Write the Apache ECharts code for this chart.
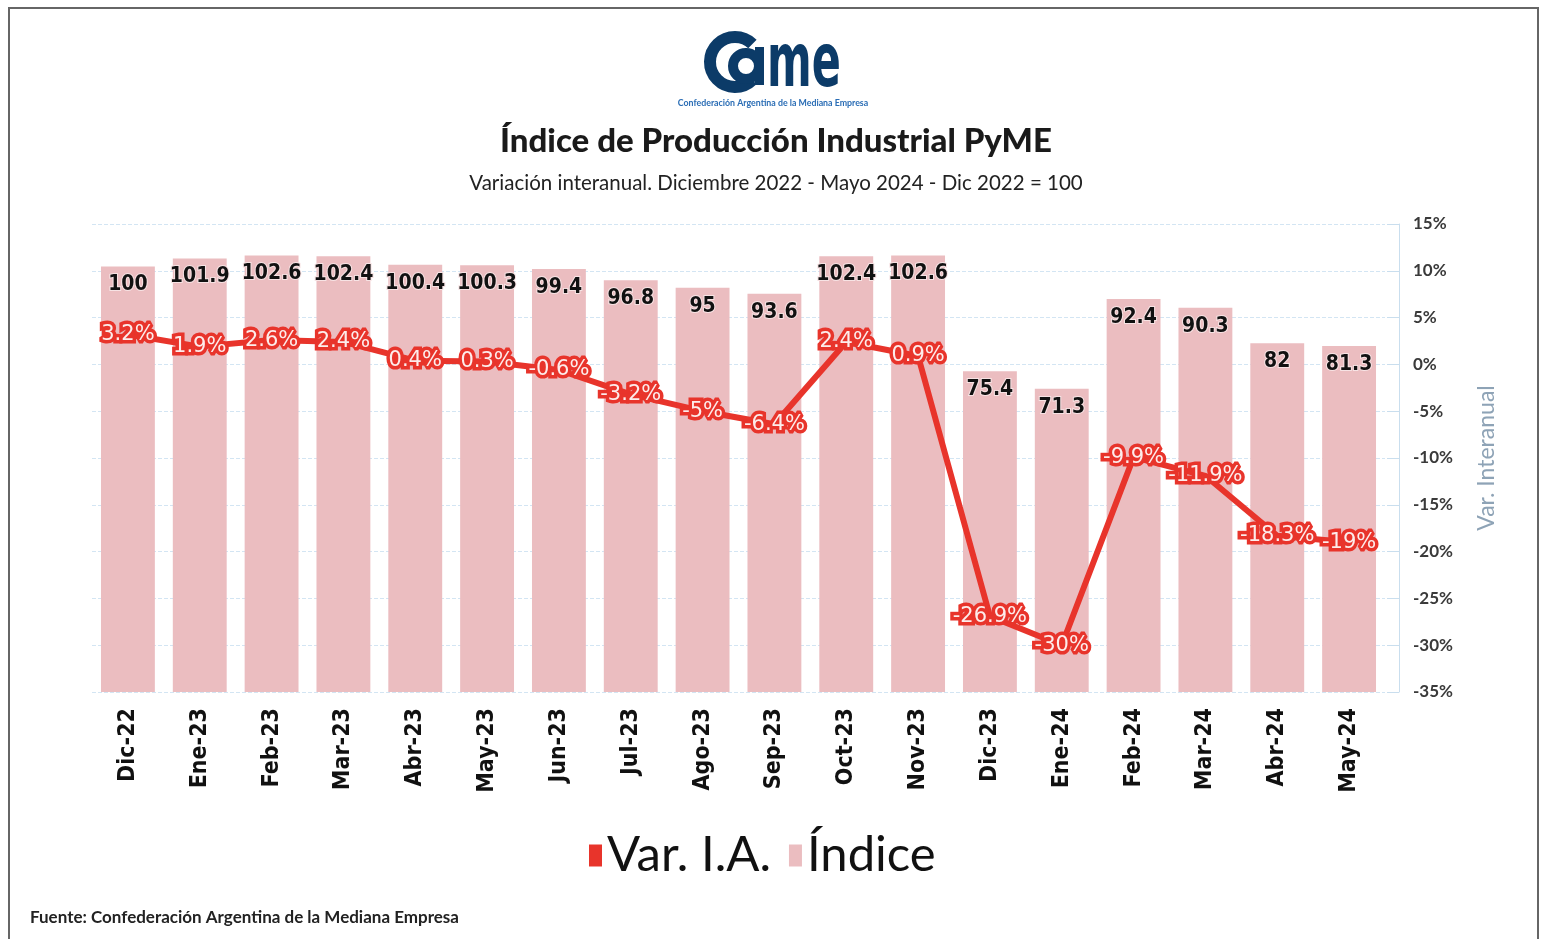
<!DOCTYPE html>
<html>
<head>
<meta charset="utf-8">
<script src="https://cdn.jsdelivr.net/npm/echarts@6/dist/echarts.min.js"></script>
<style>
  html, body { margin: 0; padding: 0; background: #fff; }
  #chart { width: 1552px; height: 939px; }
</style>
</head>
<body>
<div id="chart"></div>
<script>
// meses del período
const meses = ['Dic-22', 'Ene-23', 'Feb-23', 'Mar-23', 'Abr-23', 'May-23', 'Jun-23', 'Jul-23', 'Ago-23',
  'Sep-23', 'Oct-23', 'Nov-23', 'Dic-23', 'Ene-24', 'Feb-24', 'Mar-24', 'Abr-24', 'May-24'];
// índice (Dic 2022 = 100)
const indice = [100, 101.9, 102.6, 102.4, 100.4, 100.3, 99.4, 96.8, 95, 93.6, 102.4, 102.6, 75.4, 71.3, 92.4, 90.3, 82, 81.3];
// variación interanual %
const varIA = [3.2, 1.9, 2.6, 2.4, 0.4, 0.3, -0.6, -3.2, -5, -6.4, 2.4, 0.9, -26.9, -30, -9.9, -11.9, -18.3, -19];

const rojo = '#e8342b';
const rosa = '#ebbdc0';
const azulLogo = '#0c3b68';

const chart = echarts.init(document.getElementById('chart'));

const option = {
  backgroundColor: '#fff',
  animation: false,
  title: [
    {
      text: 'Índice de Producción Industrial PyME',
      left: 'center',
      top: 120,
      textStyle: { fontFamily: 'Lato', fontWeight: 900, fontSize: 33, color: '#1a1a1a' }
    },
    {
      text: 'Variación interanual. Diciembre 2022 - Mayo 2024 - Dic 2022 = 100',
      left: 'center',
      top: 168,
      textStyle: { fontFamily: 'Lato', fontWeight: 'normal', fontSize: 20.5, color: '#222' }
    }
  ],
  legend: {
    data: ['Var. I.A.', 'Índice'],
    left: 584,
    top: 826,
    icon: 'rect',
    itemWidth: 13,
    itemHeight: 22,
    itemGap: 18,
    textStyle: { fontFamily: 'Lato', fontSize: 49, color: '#111' }
  },
  grid: { left: 92, right: 167, top: 224, bottom: 247 },
  xAxis: {
    type: 'category',
    data: meses,
    axisLine: { show: false },
    axisTick: { show: false },
    axisLabel: {
      rotate: 90,
      margin: 16,
      fontFamily: 'DejaVu Sans Condensed',
      fontWeight: 'bold',
      fontSize: 23,
      color: '#111'
    }
  },
  yAxis: [
    {
      type: 'value',
      min: 0,
      max: 110,
      show: false
    },
    {
      type: 'value',
      position: 'right',
      offset: 14,
      min: -35,
      max: 15,
      interval: 5,
      name: 'Var. Interanual',
      nameLocation: 'middle',
      nameRotate: 90,
      nameGap: 76,
      nameTextStyle: { fontFamily: 'Lato', fontSize: 23, color: '#8ea3b6' },
      axisLine: { show: true, lineStyle: { color: '#c9deee' } },
      axisTick: { show: true, inside: true, length: 12, lineStyle: { color: '#c9deee' } },
      axisLabel: {
        formatter: '{value}%',
        margin: 14,
        fontFamily: 'Lato',
        fontWeight: 'bold',
        fontSize: 17,
        color: '#3a3a3a'
      },
      splitLine: { show: true, lineStyle: { color: '#d3e5f3', type: 'dashed', width: 1 } }
    }
  ],
  series: [
    {
      name: 'Índice',
      type: 'bar',
      yAxisIndex: 0,
      data: indice,
      barWidth: '75%',
      itemStyle: { color: rosa },
      label: {
        show: true,
        position: 'insideTop',
        distance: 8,
        fontFamily: 'DejaVu Sans Condensed',
        fontWeight: 'bold',
        fontSize: 21,
        color: '#111',
        textBorderColor: '#f7e3e4',
        textBorderWidth: 2
      }
    },
    {
      name: 'Var. I.A.',
      type: 'line',
      yAxisIndex: 1,
      data: varIA,
      symbol: 'circle',
      symbolSize: 2,
      itemStyle: { color: rojo },
      lineStyle: { color: rojo, width: 6 },
      label: {
        show: true,
        position: 'inside',
        formatter: p => p.value + '%',
        fontFamily: 'DejaVu Sans',
        fontSize: 21,
        color: '#fdeceb',
        textBorderColor: rojo,
        textBorderWidth: 7
      },
      z: 5
    }
  ],
  graphic: [
    // marco
    {
      type: 'rect',
      shape: { x: 9, y: 8, width: 1529, height: 960 },
      style: { fill: 'none', stroke: '#666', lineWidth: 2 },
      silent: true
    },
    // logo came
    {
      type: 'arc',
      shape: { cx: 735, cy: 62, r: 25, startAngle: 0.8, endAngle: Math.PI * 2 - 0.8, clockwise: true },
      style: { stroke: azulLogo, lineWidth: 12, fill: 'none' }
    },
    {
      type: 'circle',
      shape: { cx: 746, cy: 66, r: 13 },
      style: { stroke: azulLogo, lineWidth: 10, fill: '#fff' }
    },
    {
      type: 'rect',
      shape: { x: 755, y: 47, width: 9, height: 38 },
      style: { fill: azulLogo }
    },
    {
      type: 'text',
      x: 767,
      y: 104,
      scaleX: 0.58,
      style: {
        text: 'me',
        fontFamily: 'DejaVu Sans',
        fontWeight: 'bold',
        fontSize: 74,
        fill: azulLogo,
        textVerticalAlign: 'bottom'
      }
    },
    {
      type: 'text',
      x: 773,
      y: 103,
      style: {
        text: 'Confederación Argentina de la Mediana Empresa',
        fontFamily: 'Lato',
        fontWeight: 'bold',
        fontSize: 8.8,
        fill: '#2a6db5',
        textAlign: 'center',
        textVerticalAlign: 'middle'
      }
    },
    // fuente
    {
      type: 'text',
      x: 30,
      y: 918,
      style: {
        text: 'Fuente: Confederación Argentina de la Mediana Empresa',
        fontFamily: 'Lato',
        fontWeight: 'bold',
        fontSize: 17,
        fill: '#222',
        textVerticalAlign: 'middle'
      }
    }
  ]
};

chart.setOption(option);
</script>
</body>
</html>
